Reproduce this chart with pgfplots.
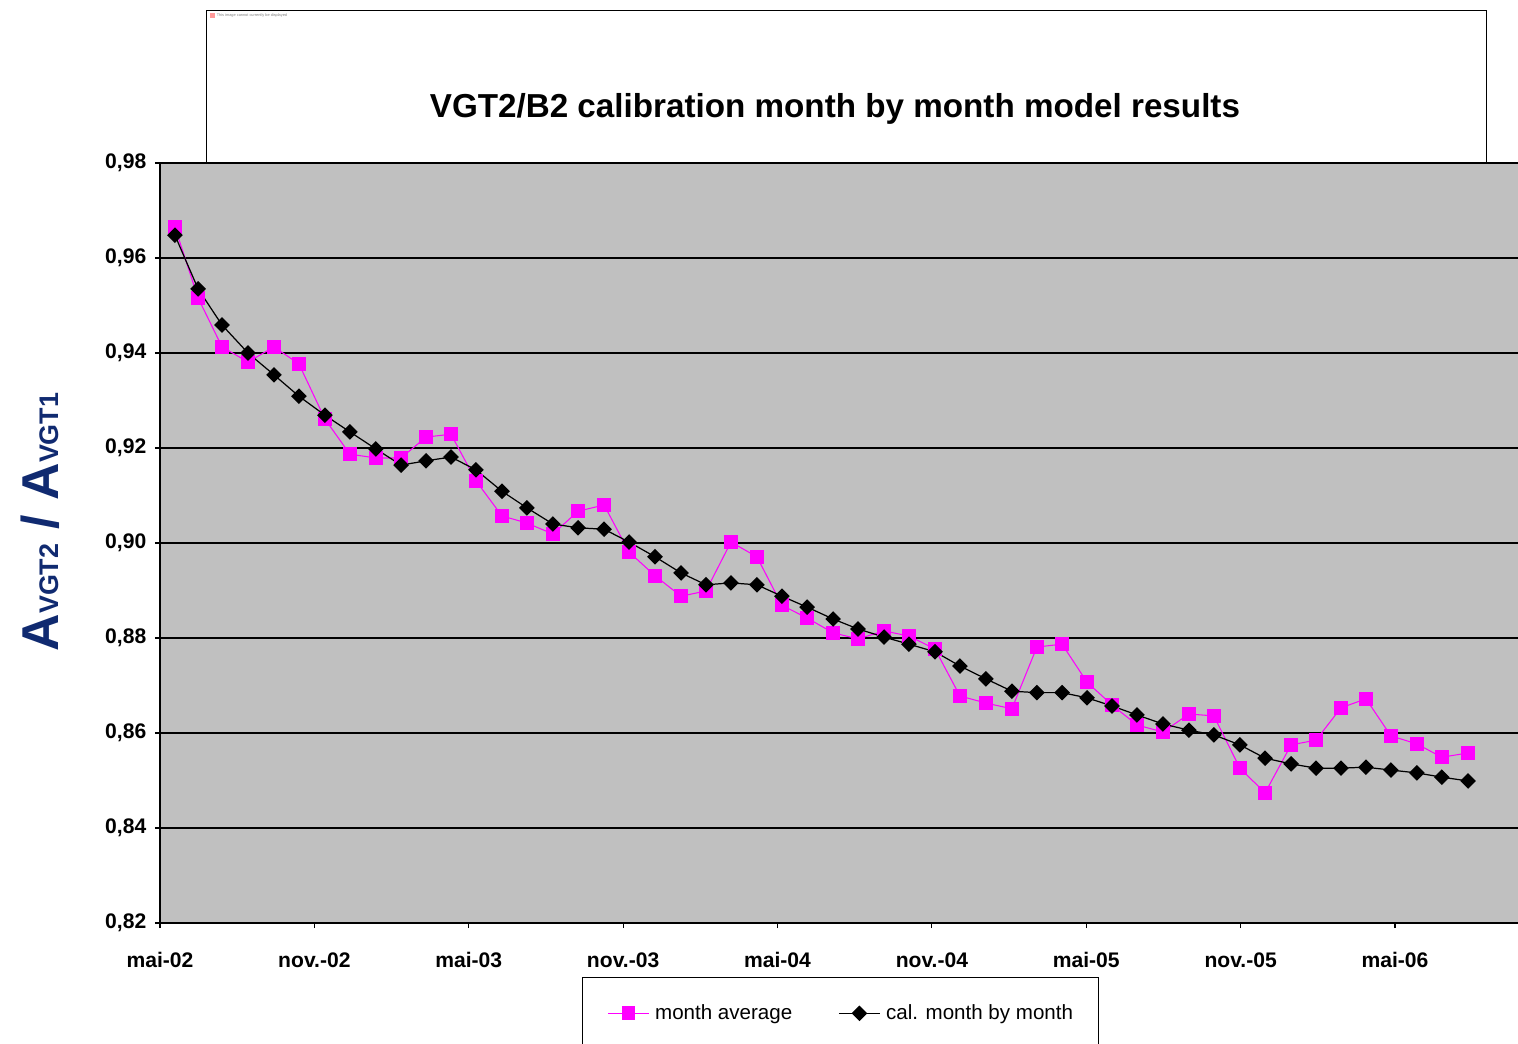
\documentclass[border=0pt]{standalone}
\usepackage{pgfplots}
\usepackage{pgfplotstable}
\pgfplotsset{compat=1.18}
\usepackage{fontspec}
\setmainfont{Liberation Sans}
\definecolor{plotgrey}{RGB}{192,192,192}
\definecolor{magentaX}{RGB}{255,0,255}
\definecolor{navyX}{RGB}{16,42,112}

\pgfplotstableread{
x mag cal
0.58 0.9665 0.9648
1.48 0.9516 0.9535
2.41 0.9413 0.9459
3.42 0.9381 0.9400
4.43 0.9413 0.9354
5.40 0.9377 0.9309
6.41 0.9261 0.9269
7.38 0.9187 0.9234
8.39 0.9179 0.9198
9.37 0.9179 0.9164
10.34 0.9223 0.9173
11.31 0.9229 0.9181
12.28 0.9131 0.9154
13.29 0.9057 0.9109
14.26 0.9042 0.9074
15.27 0.9019 0.9040
16.25 0.9067 0.9032
17.26 0.9080 0.9029
18.23 0.8981 0.9002
19.24 0.8931 0.8971
20.25 0.8888 0.8937
21.22 0.8899 0.8912
22.19 0.9002 0.8916
23.20 0.8971 0.8912
24.17 0.8869 0.8888
25.15 0.8842 0.8865
26.16 0.8811 0.8840
27.13 0.8798 0.8819
28.14 0.8815 0.8802
29.11 0.8804 0.8787
30.12 0.8777 0.8771
31.09 0.8678 0.8741
32.10 0.8663 0.8714
33.11 0.8651 0.8688
34.08 0.8781 0.8685
35.06 0.8787 0.8685
36.03 0.8707 0.8674
37.00 0.8659 0.8657
37.97 0.8617 0.8638
38.98 0.8602 0.8619
39.99 0.8640 0.8606
40.96 0.8636 0.8596
41.97 0.8526 0.8575
42.95 0.8474 0.8547
43.96 0.8575 0.8535
44.93 0.8585 0.8526
45.90 0.8653 0.8526
46.87 0.8672 0.8528
47.84 0.8594 0.8522
48.85 0.8577 0.8516
49.82 0.8549 0.8507
50.84 0.8558 0.8499
}\datatable

\begin{document}
\begin{tikzpicture}
\useasboundingbox (0,0) rectangle (30.36,-20.88);
% title box
\draw[black, line width=0.5pt, fill=white] (4.12,-3.4) -- (4.12,-0.2) -- (29.72,-0.2) -- (29.72,-3.4);
\fill[red!40] (4.2,-0.26) rectangle (4.3,-0.36);
\node[anchor=west, inner sep=0pt, text=gray, font=\fontsize{2.2}{2.5}\selectfont] at (4.33,-0.31) {This image cannot currently be displayed};
\begin{axis}[
  at={(3.2cm,-18.46cm)}, anchor=south west,
  scale only axis, width=27.16cm, height=15.2cm,
  xmin=0, xmax=52.78, ymin=0.82, ymax=0.98,
  axis x line*=bottom, axis y line*=left,
  axis line style={black, line width=0.6pt},
  axis background/.style={fill=plotgrey},
  ymajorgrids, grid style={black, line width=0.7pt},
  xtick={0,6,12,18,24,30,36,42,48},
  xticklabels={mai-02,nov.-02,mai-03,nov.-03,mai-04,nov.-04,mai-05,nov.-05,mai-06},
  ytick={0.82,0.84,0.86,0.88,0.90,0.92,0.94,0.96,0.98},
  tick align=outside, major tick length=0.1cm, tick style={black, line width=0.6pt},
  ticklabel style={font=\bfseries\fontsize{12}{14}\selectfont},
  xticklabel style={yshift=-0.37cm},
  yticklabel style={xshift=-0.05cm, /pgf/number format/.cd, fixed, fixed zerofill, precision=2, use comma, assume math mode=true},
  ylabel={{\fontsize{29.5}{32}\selectfont A}{\fontsize{15.3}{17}\selectfont VGT2}{\fontsize{29.5}{32}\selectfont\ / A}{\fontsize{15.3}{17}\selectfont VGT1}},
  ylabel style={at={(axis description cs:-0.0884,0.5276)}, anchor=center, text=navyX, font=\bfseries},
  title={VGT2/B2 calibration month by month model results},
  title style={at={(axis description cs:0.497,1.057)}, anchor=center, font=\bfseries\fontsize{18.9}{22}\selectfont},
  legend columns=2,
  legend style={at={(axis description cs:0.3108,-0.0711)}, anchor=north west,
    draw=black, line width=0.6pt, fill=white, inner xsep=0.5cm, inner ysep=0.54cm,
    font=\fontsize{11.7}{14}\selectfont,
    nodes={inner sep=0pt, anchor=west},
    /tikz/every odd column/.append style={column sep=0.11cm},
    /tikz/every even column/.append style={column sep=0.92cm}},
  legend image code/.code={\draw[mark repeat=2, mark phase=2, #1] plot coordinates {(0cm,0cm) (0.41cm,0cm) (0.82cm,0cm)};},
]
\addplot[magentaX, line width=0.6pt, mark=square*, mark size=3.6pt, mark options={solid, fill=magentaX, draw=magentaX}] table[x=x, y=mag] {\datatable};
\addlegendentry{month average}
\addplot[black, line width=0.7pt, mark=square*, mark size=2.8pt, mark options={solid, fill=black, rotate=45}] table[x=x, y=cal] {\datatable};
\addlegendentry{cal. month by month}
\end{axis}
\end{tikzpicture}
\end{document}
